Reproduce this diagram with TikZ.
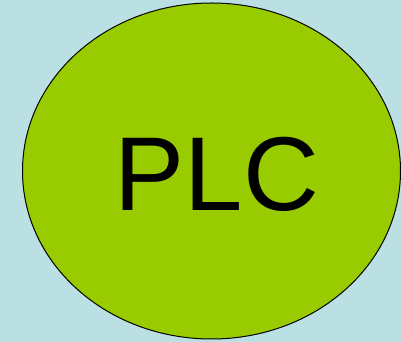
\documentclass[tikz,border=0pt]{standalone}
\usepackage{fontspec}
\setmainfont{Liberation Sans}
\definecolor{bgblue}{HTML}{BBE0E3}
\definecolor{plcgreen}{HTML}{99CC00}
\tikzset{
  plcshape/.style={ellipse, draw=black, line width=1pt, fill=plcgreen,
    minimum width=378pt, minimum height=336pt, inner sep=0pt},
  plctext/.style={font=\fontsize{105}{105}\selectfont, anchor=base, inner sep=0pt}
}
\usetikzlibrary{shapes.geometric}
\begin{document}
\begin{tikzpicture}[x=1pt,y=1pt]
\fill[bgblue] (0,0) rectangle (401,342);
\useasboundingbox (0,0) rectangle (401,342);
\node[plcshape] (plc) at (211.5,171) {};
\node[plctext] (label) at (217,131.3) {PLC};
\end{tikzpicture}
\end{document}
